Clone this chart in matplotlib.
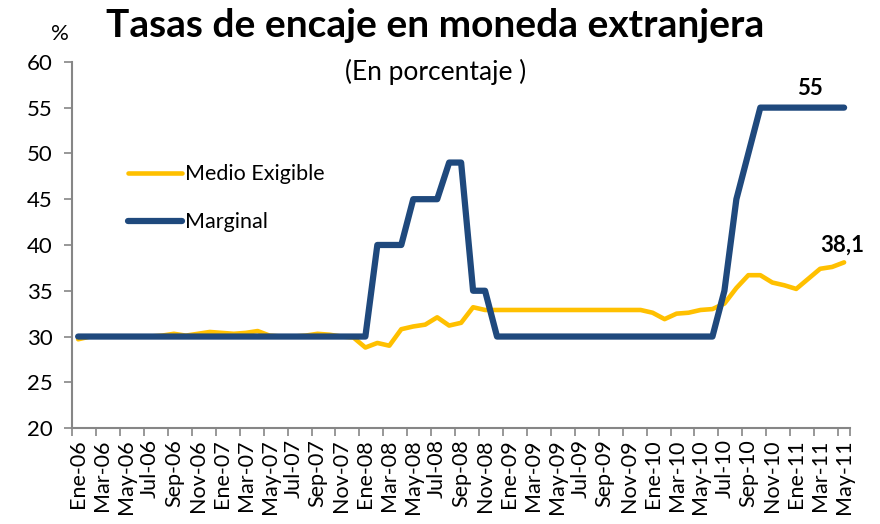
import matplotlib
matplotlib.use("Agg")
import matplotlib.pyplot as plt

plt.rcParams['font.family'] = ['Lato', 'DejaVu Sans']

## monthly data, Ene-06 .. May-11

meses = ["Ene", "Feb", "Mar", "Abr", "May", "Jun",
         "Jul", "Ago", "Sep", "Oct", "Nov", "Dic"]
periodos = [f"{m}-{a:02d}" for a in range(6, 12) for m in meses][:65]

medio_exigible = [
    29.7, 30.0, 30.0, 30.0, 30.0, 30.0, 30.0, 30.1, 30.3, 30.1, 30.3, 30.5,
    30.4, 30.3, 30.4, 30.6, 30.1, 30.0, 30.0, 30.1, 30.3, 30.2, 30.0, 29.9,
    28.8, 29.3, 29.0, 30.8, 31.1, 31.3, 32.1, 31.2, 31.5, 33.2, 32.9, 32.9,
    32.9, 32.9, 32.9, 32.9, 32.9, 32.9, 32.9, 32.9, 32.9, 32.9, 32.9, 32.9,
    32.6, 31.9, 32.5, 32.6, 32.9, 33.0, 33.6, 35.3, 36.7, 36.7, 35.9, 35.6,
    35.2, 36.3, 37.4, 37.6, 38.1,
]

marginal = [
    30, 30, 30, 30, 30, 30, 30, 30, 30, 30, 30, 30,
    30, 30, 30, 30, 30, 30, 30, 30, 30, 30, 30, 30,
    30, 40, 40, 40, 45, 45, 45, 49, 49, 35, 35, 30,
    30, 30, 30, 30, 30, 30, 30, 30, 30, 30, 30, 30,
    30, 30, 30, 30, 30, 30, 35, 45, 50, 55, 55, 55,
    55, 55, 55, 55, 55,
]

AMARILLO = "#FFC000"
AZUL = "#1F497D"
GRIS = "#868686"

fig = plt.figure(figsize=(8.8, 5.24), dpi=100)
ax = fig.add_axes([0.082, 0.183, 0.884, 0.699])

x = list(range(len(periodos)))
ax.plot(x, medio_exigible, color=AMARILLO, lw=3.3,
        solid_capstyle="round", solid_joinstyle="round", label="Medio Exigible")
ax.plot(x, marginal, color=AZUL, lw=4.5,
        solid_capstyle="round", solid_joinstyle="round", label="Marginal")

ax.set_xlim(-0.5, len(periodos) - 0.5)
ax.set_ylim(20, 60)
ax.set_yticks(range(20, 61, 5))

# labels every two months, tick marks on category boundaries
ax.set_xticks(x[::2])
ax.set_xticklabels(periodos[::2], rotation=90)
ax.set_xticks([i - 0.5 for i in x[::2]] + [len(periodos) - 0.5], minor=True)
ax.tick_params(axis="x", which="major", length=0, pad=8, labelsize=15.5)
ax.tick_params(axis="x", which="minor", length=6, width=1.2, color=GRIS)
ax.tick_params(axis="y", length=6, width=1.2, color=GRIS, pad=8, labelsize=16)

for s in ("top", "right"):
    ax.spines[s].set_visible(False)
for s in ("left", "bottom"):
    ax.spines[s].set_color(GRIS)
    ax.spines[s].set_linewidth(1.5)

ax.legend(loc="upper left", bbox_to_anchor=(0.072, 0.72), frameon=False,
          fontsize=15.5, handlelength=2.5, handletextpad=0.15, labelspacing=1.3,
          borderpad=0, borderaxespad=0)

ax.annotate("55", (x[-1], marginal[-1]), xytext=(-34, 9),
            textcoords="offset points", fontsize=16, fontweight="bold")
ax.annotate(f"{medio_exigible[-1]:.1f}".replace(".", ","),
            (x[-1], medio_exigible[-1]), xytext=(-17, 8),
            textcoords="offset points", fontsize=16, fontweight="bold")

fig.text(0.495, 0.952, "Tasas de encaje en moneda extranjera", ha="center",
         va="center", fontsize=28, fontweight="bold")
fig.text(0.495, 0.862, "(En porcentaje )", ha="center", va="center", fontsize=19)
fig.text(0.068, 0.935, "%", ha="center", va="center", fontsize=16)

fig.savefig("out.png", dpi=100)
